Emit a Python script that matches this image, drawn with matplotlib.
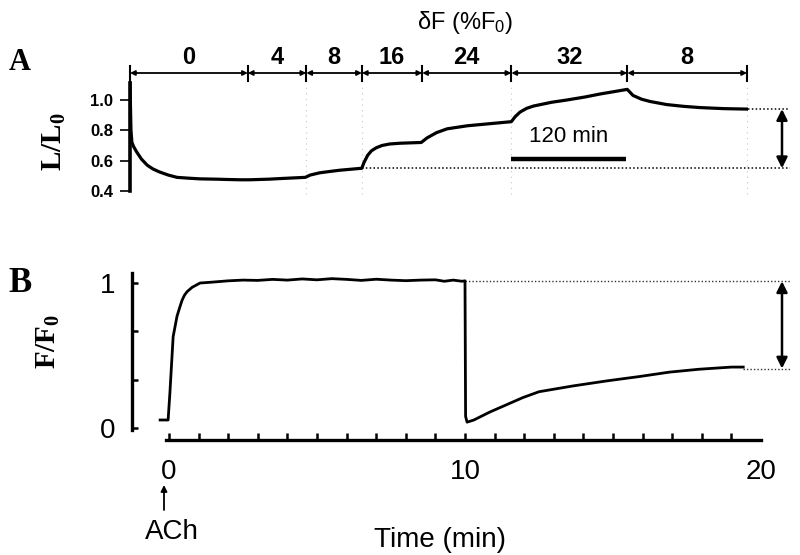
import matplotlib
matplotlib.use("Agg")
import matplotlib.pyplot as plt
from matplotlib.ticker import FixedLocator, NullFormatter
import matplotlib.transforms as mtransforms

plt.rcParams['font.family'] = ['Liberation Sans', 'DejaVu Sans']
plt.rcParams['mathtext.fontset'] = 'custom'
plt.rcParams['mathtext.rm'] = 'Liberation Sans'
plt.rcParams['mathtext.it'] = 'Liberation Sans:italic'
plt.rcParams['mathtext.bf'] = 'Liberation Serif:bold'

# ---------------- Panel A data (time in min, L/L0) ----------------
a_time = [0, 1, 2, 4, 7, 12, 18, 24, 31, 40, 49, 60, 73, 90, 101, 115, 125, 145,
          160, 183, 188, 198, 210, 219, 242, 244, 248, 252, 257, 263, 271, 282,
          304, 306, 310, 320, 331, 352, 386, 398, 402, 407, 414, 421, 440, 456,
          475, 491, 519, 525, 534, 543, 560, 578, 595, 620, 645]
a_ratio = [1.11, 0.80, 0.72, 0.69, 0.657, 0.61, 0.57, 0.545, 0.525, 0.505, 0.49,
           0.485, 0.48, 0.478, 0.476, 0.474, 0.474, 0.478, 0.483, 0.49, 0.505,
           0.52, 0.53, 0.537, 0.55, 0.585, 0.635, 0.665, 0.685, 0.70, 0.71,
           0.715, 0.72, 0.73, 0.75, 0.785, 0.81, 0.83, 0.85, 0.857, 0.89, 0.92,
           0.945, 0.96, 0.985, 1.00, 1.02, 1.04, 1.07, 1.03, 1.005, 0.99, 0.97,
           0.958, 0.95, 0.943, 0.94]
seg_bounds = [0, 123, 184, 242, 305, 398, 519, 644]
seg_labels = ["0", "4", "8", "16", "24", "32", "8"]
a_yticks = [0.4, 0.6, 0.8, 1.0]
a_yticklabels = ["0.4", "0.6", "0.8", "1.0"]
a_ref_high = 0.94
a_ref_low = 0.55
scalebar_min = 120

# ---------------- Panel B data (time in min, F/F0) ----------------
b_time = [-0.3, -0.03, 0.03, 0.14, 0.27, 0.36, 0.44, 0.52, 0.61, 0.78, 1.05,
          1.4, 2.0, 2.5, 3.0, 3.5, 4.0, 4.5, 5.0, 5.5, 6.0, 6.5, 7.0, 7.5, 8.0,
          8.5, 9.0, 9.3, 9.6, 9.9, 10.0, 10.02, 10.07, 10.3, 10.84, 11.4, 11.96,
          12.5, 13.65, 14.8, 15.9, 16.9, 17.9, 19.0, 19.4]
b_ratio = [0.055, 0.055, 0.24, 0.63, 0.77, 0.83, 0.88, 0.915, 0.94, 0.97, 1.0,
           1.005, 1.015, 1.02, 1.018, 1.025, 1.02, 1.028, 1.022, 1.03, 1.025,
           1.018, 1.026, 1.02, 1.016, 1.02, 1.022, 1.012, 1.02, 1.012, 1.015,
           0.08, 0.04, 0.055, 0.11, 0.16, 0.21, 0.25, 0.29, 0.325, 0.355, 0.385,
           0.405, 0.42, 0.42]
b_yticks = [0, 1/3, 2/3, 1]
b_yticklabels = ["0", "", "", "1"]
b_xticks = [0, 10, 20]
b_xminor = [1, 2, 3, 4, 5, 6, 7, 8, 9, 11, 12, 13, 14, 15, 16, 17, 18, 19]
b_ref_high = 1.012
b_ref_low = 0.41

W, H = 800, 555
fig = plt.figure(figsize=(W / 100, H / 100), dpi=100)


def px(x, y):
    return x / W, 1 - y / H


# ================= Panel A =================
axA = fig.add_axes([130 / W, (H - 191) / H, 618 / W, (191 - 78) / H])
axA.set_xlim(0, 645)
axA.set_ylim(0.4, 0.4 + 113 * 0.6 / 91)
for s in ['top', 'right', 'bottom']:
    axA.spines[s].set_visible(False)
axA.spines['left'].set_linewidth(2.6)
axA.spines['left'].set_bounds(0.4, 1.11)
axA.set_xticks([])
axA.set_yticks(a_yticks)
axA.set_yticklabels(a_yticklabels, fontsize=12, fontweight='bold')
axA.tick_params(axis='y', direction='out', length=7, width=1.2, pad=5)

# faint boundary guides
for b in [184, 242, 398, 644]:
    axA.plot([b, b], [0.38, 1.1], color='0.78', lw=0.8, ls=(0, (1, 4)),
             clip_on=False, zorder=1)

axA.plot(a_time, a_ratio, color='black', lw=2.3, solid_joinstyle='round', zorder=3)

# reference dotted lines and double arrow
x_end = (790 - 130) * 645 / 618
x_arr = (782 - 130) * 645 / 618
axA.plot([a_time[-1], x_end], [a_ref_high, a_ref_high], color='black', lw=1.1,
         ls=(0, (1, 1.5)), clip_on=False)
axA.plot([242, x_end], [a_ref_low, a_ref_low], color='black', lw=1.1,
         ls=(0, (1, 1.5)), clip_on=False)
axA.annotate('', xy=(x_arr, a_ref_high), xytext=(x_arr, a_ref_low),
             arrowprops=dict(arrowstyle='<|-|>', color='black', lw=1.8,
                             mutation_scale=16, shrinkA=0, shrinkB=0),
             annotation_clip=False)

# scale bar
sb_y = 0.4 + 32 * 0.6 / 91
axA.plot([398, 398 + scalebar_min], [sb_y, sb_y], color='black', lw=3.2,
         solid_capstyle='butt', clip_on=False)
axA.text(398 + scalebar_min / 2, 0.4 + 54 * 0.6 / 91, f"{scalebar_min} min",
         ha='center', va='center', fontsize=16)

# top bracket
trA = mtransforms.blended_transform_factory(axA.transData, axA.transAxes)
yb = (191 - 73) / 113
for b in seg_bounds:
    axA.plot([b, b], [(191 - 81) / 113, (191 - 66) / 113], color='black',
             lw=1.5, transform=trA, clip_on=False)
for i, lab in enumerate(seg_labels):
    b0, b1 = seg_bounds[i], seg_bounds[i + 1]
    axA.annotate('', xy=(b1, yb), xytext=(b0, yb), xycoords=trA, textcoords=trA,
                 arrowprops=dict(arrowstyle='<|-|>', color='black', lw=1.3,
                                 mutation_scale=7, shrinkA=0, shrinkB=0),
                 annotation_clip=False)
    axA.text((b0 + b1) / 2, (191 - 58) / 113, lab, transform=trA, ha='center',
             va='center', fontsize=17, fontweight='bold')

fig.text(*px(465, 22), "δF (%F$_0$)", ha='center', va='center', fontsize=17)
fig.text(*px(20, 62), "A", ha='center', va='center', fontsize=22,
         fontweight='bold', family='Liberation Serif')
fig.text(*px(54, 142), r"$\mathbf{L/L_0}$", ha='center', va='center',
         fontsize=21, rotation=90)

# ================= Panel B =================
axB = fig.add_axes([132 / W, (H - 440) / H, (761 - 132) / W, (440 - 273) / H])
axB.set_xlim(-1.25, 20)
axB.set_ylim(-0.083, 1.069)
for s in ['top', 'right']:
    axB.spines[s].set_visible(False)
axB.spines['left'].set_linewidth(2.4)
axB.spines['left'].set_bounds(-0.014, 1.069)
axB.spines['bottom'].set_linewidth(2.4)
axB.spines['bottom'].set_bounds(-0.1, 20)
axB.set_yticks(b_yticks)
axB.set_yticklabels(b_yticklabels, fontsize=20)
axB.tick_params(axis='y', direction='in', length=4, width=1.8, pad=12)
axB.set_xticks(b_xticks)
axB.set_xticklabels([str(v) for v in b_xticks], fontsize=20)
axB.xaxis.set_minor_locator(FixedLocator(b_xminor))
axB.xaxis.set_minor_formatter(NullFormatter())
axB.tick_params(axis='x', which='both', direction='in', length=5, width=1.8, pad=14)
axB.xaxis.get_major_ticks()[2].tick1line.set_visible(False)

axB.plot(b_time, b_ratio, color='black', lw=2.0, zorder=3,
         solid_joinstyle='round')

xb_end = (790 - 169) / 29.6
xb_arr = (782 - 169) / 29.6
axB.plot([10.0, xb_end], [b_ref_high, b_ref_high], color='0.2', lw=1.0,
         ls=(0, (1, 1.5)), clip_on=False)
axB.plot([b_time[-1], xb_end], [b_ref_low, b_ref_low], color='0.2', lw=1.0,
         ls=(0, (1, 1.5)), clip_on=False)
axB.annotate('', xy=(xb_arr, b_ref_high), xytext=(xb_arr, b_ref_low),
             arrowprops=dict(arrowstyle='<|-|>', color='black', lw=1.8,
                             mutation_scale=16, shrinkA=0, shrinkB=0),
             annotation_clip=False)

# ACh arrow
axB.annotate('', xy=px(164, 485), xytext=px(164, 510), xycoords='figure fraction',
             textcoords='figure fraction',
             arrowprops=dict(arrowstyle='-|>', color='black', lw=1.3,
                             mutation_scale=9, shrinkA=0, shrinkB=0),
             annotation_clip=False)
fig.text(*px(172, 532), "ACh", ha='center', va='center', fontsize=20)
fig.text(*px(440, 540), "Time (min)", ha='center', va='center', fontsize=20)
fig.text(*px(20, 284), "B", ha='center', va='center', fontsize=25,
         fontweight='bold', family='Liberation Serif')
fig.text(*px(48, 341), r"$\mathbf{F/F_0}$", ha='center', va='center',
         fontsize=21, rotation=90)

fig.savefig("out.png", dpi=100)
